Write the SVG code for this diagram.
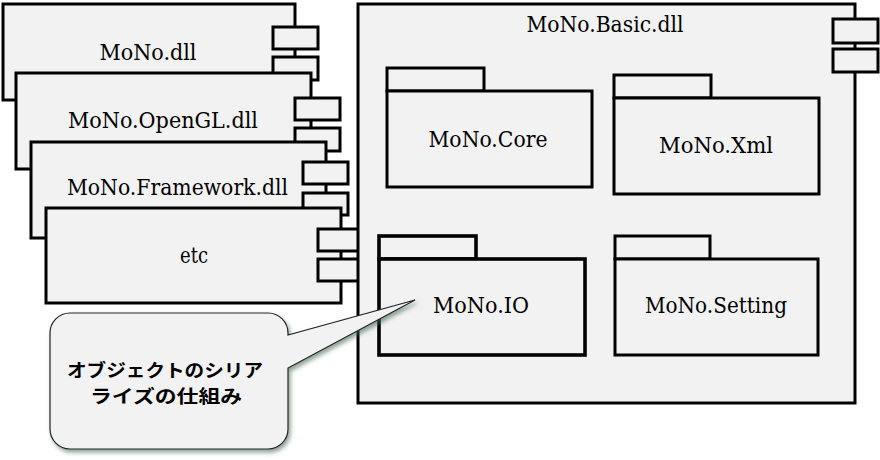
<svg xmlns="http://www.w3.org/2000/svg" width="880" height="460" viewBox="0 0 880 460">
<style>
.box{fill:#f2f2f2;stroke:#000;stroke-width:3}
.port{fill:#f2f2f2;stroke:#000;stroke-width:3}
.pkg{fill:#f2f2f2;stroke:#000;stroke-width:3}
.pkgb{fill:#f2f2f2;stroke:#000;stroke-width:3.6}
.lbl{font-family:'DejaVu Serif',serif;font-size:22px;fill:#000;text-anchor:middle}
.jp{font-family:'Noto Sans CJK JP','Noto Sans CJK SC',sans-serif;font-size:18px;font-weight:bold;fill:#000;text-anchor:middle}
</style>
<defs>
<filter id="shadow" x="-10%" y="-10%" width="130%" height="130%">
<feDropShadow dx="2" dy="3" stdDeviation="2" flood-color="#3f6650" flood-opacity="0.6"/>
</filter>
</defs>
<rect width="880" height="460" fill="#fff"/>

<g id="mono-dll">
<rect class="box" x="3" y="4" width="292" height="96"/>
<rect class="port" x="273" y="27" width="45" height="22"/>
<rect class="port" x="273" y="57" width="45" height="23"/>
<text class="lbl" x="148" y="60" textLength="97" lengthAdjust="spacingAndGlyphs">MoNo.dll</text>
</g>
<g id="mono-opengl">
<rect class="box" x="16" y="73" width="295" height="96"/>
<rect class="port" x="295" y="98" width="45" height="22"/>
<rect class="port" x="295" y="128" width="45" height="23"/>
<text class="lbl" x="163" y="128" textLength="190" lengthAdjust="spacingAndGlyphs">MoNo.OpenGL.dll</text>
</g>
<g id="mono-framework">
<rect class="box" x="31" y="142" width="295" height="96"/>
<rect class="port" x="303" y="162" width="45" height="22"/>
<rect class="port" x="303" y="193" width="45" height="22"/>
<text class="lbl" x="177.5" y="195" textLength="221" lengthAdjust="spacingAndGlyphs">MoNo.Framework.dll</text>
</g>
<g id="etc">
<rect class="box" x="46" y="208" width="295" height="95"/>
<rect class="port" x="318" y="229" width="45" height="22"/>
<rect class="port" x="318" y="259" width="45" height="22"/>
<text class="lbl" x="194" y="263" textLength="28" lengthAdjust="spacingAndGlyphs">etc</text>
</g>

<g id="mono-basic">
<rect class="box" x="358" y="4" width="497" height="399"/>
<rect class="port" x="833" y="19" width="45" height="24"/>
<rect class="port" x="833" y="49" width="45" height="23"/>
<text class="lbl" x="605" y="32" textLength="157" lengthAdjust="spacingAndGlyphs">MoNo.Basic.dll</text>
</g>

<g id="mono-core">
<rect class="pkg" x="387" y="68" width="97" height="23"/>
<rect class="pkg" x="387" y="91" width="205" height="96"/>
<text class="lbl" x="488" y="147" textLength="119" lengthAdjust="spacingAndGlyphs">MoNo.Core</text>
</g>
<g id="mono-xml">
<rect class="pkg" x="614" y="75" width="97" height="23"/>
<rect class="pkg" x="614" y="98" width="205" height="96"/>
<text class="lbl" x="716" y="153" textLength="114" lengthAdjust="spacingAndGlyphs">MoNo.Xml</text>
</g>
<g id="mono-io">
<rect class="pkgb" x="379" y="236" width="97" height="23"/>
<rect class="pkgb" x="379" y="259" width="206" height="96"/>
<text class="lbl" x="481" y="313" textLength="96" lengthAdjust="spacingAndGlyphs">MoNo.IO</text>
</g>
<g id="mono-setting">
<rect class="pkg" x="615" y="236" width="95" height="23"/>
<rect class="pkg" x="615" y="259" width="203" height="96"/>
<text class="lbl" x="716" y="313" textLength="142" lengthAdjust="spacingAndGlyphs">MoNo.Setting</text>
</g>

<g id="callout">
<path d="M70,313 H268 A20,20 0 0 1 288,333 V335 L415,300 L288,368 V429 A20,20 0 0 1 268,449 H70 A20,20 0 0 1 50,429 V333 A20,20 0 0 1 70,313 Z" fill="#f2f2f2" stroke="#222" stroke-width="1.2" filter="url(#shadow)"/>
<text class="jp"><tspan x="165" y="377" textLength="196" lengthAdjust="spacingAndGlyphs">オブジェクトのシリア</tspan><tspan x="166" y="403" textLength="152" lengthAdjust="spacingAndGlyphs">ライズの仕組み</tspan></text>
</g>
<g id="connectors"></g>
</svg>
